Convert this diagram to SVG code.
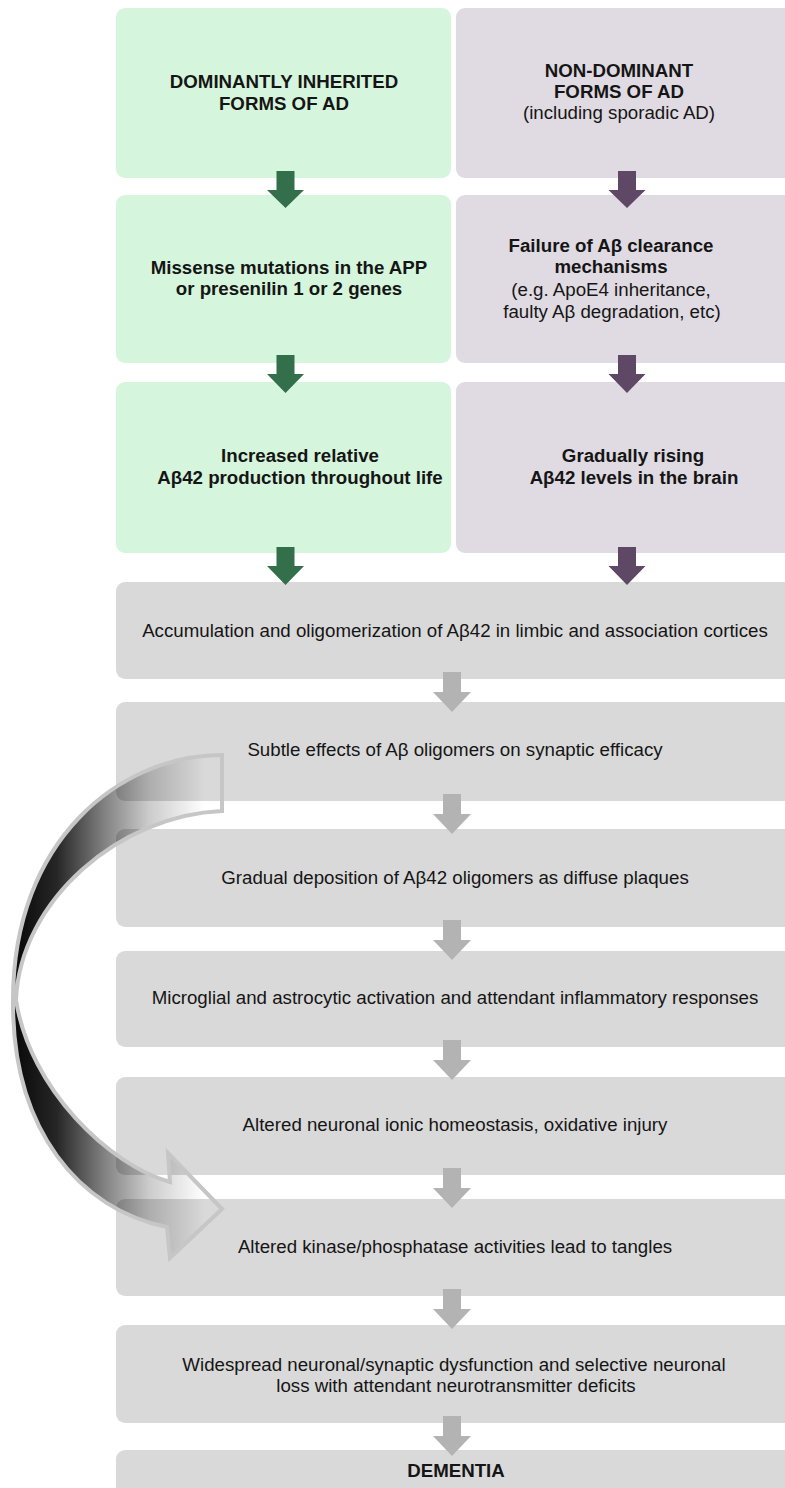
<svg xmlns="http://www.w3.org/2000/svg" width="785" height="1488" viewBox="0 0 785 1488">
<style>
  .g { fill: #d6f5dd; }
  .p { fill: #e0dae2; }
  .k { fill: #d9d9d9; }
  .ga { fill: #336f4b; }
  .pa { fill: #5f4766; }
  .ka { fill: #b3b3b3; }
  text { font-family: "Liberation Sans", Arial, sans-serif; font-size: 18.7px; fill: #151515; text-anchor: middle; }
  .b { font-weight: bold; }
</style>
<defs>
  <linearGradient id="curveGrad" gradientUnits="userSpaceOnUse" x1="20" y1="0" x2="205" y2="0">
    <stop offset="0" stop-color="#000" stop-opacity="0.95"/>
    <stop offset="0.2" stop-color="#000" stop-opacity="0.85"/>
    <stop offset="0.45" stop-color="#000" stop-opacity="0.5"/>
    <stop offset="0.7" stop-color="#000" stop-opacity="0.2"/>
    <stop offset="1" stop-color="#000" stop-opacity="0"/>
  </linearGradient>
</defs>
<rect width="785" height="1488" fill="#ffffff"/>

<g id="n-dominant">
  <rect class="g" x="116" y="8" width="335" height="170" rx="9"/>
  <text class="b" x="284" y="88">DOMINANTLY INHERITED</text>
  <text class="b" x="284" y="110">FORMS OF AD</text>
</g>
<g id="n-nondominant">
  <rect class="p" x="456" y="8" width="345" height="170" rx="9"/>
  <text class="b" x="619" y="77">NON-DOMINANT</text>
  <text class="b" x="619" y="98">FORMS OF AD</text>
  <text x="619" y="119">(including sporadic AD)</text>
</g>
<g id="n-missense">
  <rect class="g" x="116" y="195" width="335" height="168" rx="9"/>
  <text class="b" x="289" y="274">Missense mutations in the APP</text>
  <text class="b" x="289" y="295">or presenilin 1 or 2 genes</text>
</g>
<g id="n-clearance">
  <rect class="p" x="456" y="195" width="345" height="168" rx="9"/>
  <text class="b" x="611" y="252">Failure of Aβ clearance</text>
  <text class="b" x="611" y="273">mechanisms</text>
  <text x="611" y="296">(e.g. ApoE4 inheritance,</text>
  <text x="612" y="318">faulty Aβ degradation, etc)</text>
</g>
<g id="n-increased">
  <rect class="g" x="116" y="382" width="335" height="171" rx="9"/>
  <text class="b" x="300" y="462">Increased relative</text>
  <text class="b" x="300" y="484">Aβ42 production throughout life</text>
</g>
<g id="n-rising">
  <rect class="p" x="456" y="382" width="345" height="171" rx="9"/>
  <text class="b" x="633" y="462">Gradually rising</text>
  <text class="b" x="634" y="484">Aβ42 levels in the brain</text>
</g>
<g id="n-accumulation">
  <rect class="k" x="116" y="582" width="685" height="97" rx="9"/>
  <text x="455" y="637">Accumulation and oligomerization of Aβ42 in limbic and association cortices</text>
</g>
<g id="n-subtle">
  <rect class="k" x="116" y="702" width="685" height="99" rx="9"/>
  <text x="455" y="756">Subtle effects of Aβ oligomers on synaptic efficacy</text>
</g>
<g id="n-deposition">
  <rect class="k" x="116" y="829" width="685" height="98" rx="9"/>
  <text x="455" y="884">Gradual deposition of Aβ42 oligomers as diffuse plaques</text>
</g>
<g id="n-microglial">
  <rect class="k" x="116" y="951" width="685" height="96" rx="9"/>
  <text x="455" y="1004">Microglial and astrocytic activation and attendant inflammatory responses</text>
</g>
<g id="n-ionic">
  <rect class="k" x="116" y="1077" width="685" height="98" rx="9"/>
  <text x="455" y="1131">Altered neuronal ionic homeostasis, oxidative injury</text>
</g>
<g id="n-kinase">
  <rect class="k" x="116" y="1199" width="685" height="97" rx="9"/>
  <text x="455" y="1253">Altered kinase/phosphatase activities lead to tangles</text>
</g>
<g id="n-widespread">
  <rect class="k" x="116" y="1325" width="685" height="98" rx="9"/>
  <text x="454" y="1371">Widespread neuronal/synaptic dysfunction and selective neuronal</text>
  <text x="456" y="1392">loss with attendant neurotransmitter deficits</text>
</g>
<g id="n-dementia">
  <rect class="k" x="116" y="1450" width="685" height="60" rx="9"/>
  <text class="b" x="456" y="1477">DEMENTIA</text>
</g>

<g id="connectors">
  <path class="ga" d="M276.5,171 h18 v19 h9.5 l-18.5,18 l-18.5,-18 h9.5 z"/>
  <path class="ga" d="M276.5,355 h18 v19 h9.5 l-18.5,19 l-18.5,-19 h9.5 z"/>
  <path class="ga" d="M276.5,547 h18 v19 h9.5 l-18.5,19 l-18.5,-19 h9.5 z"/>
  <path class="pa" d="M618,171 h18 v19 h9.5 l-18.5,18 l-18.5,-18 h9.5 z"/>
  <path class="pa" d="M618,355 h18 v19 h9.5 l-18.5,19 l-18.5,-19 h9.5 z"/>
  <path class="pa" d="M618,547 h18 v19 h9.5 l-18.5,19 l-18.5,-19 h9.5 z"/>
  <path class="ka" d="M443,672 h18 v20 h10 l-19,20 l-19,-20 h10 z"/>
  <path class="ka" d="M443,794 h18 v20 h10 l-19,20 l-19,-20 h10 z"/>
  <path class="ka" d="M443,920 h18 v20 h10 l-19,20 l-19,-20 h10 z"/>
  <path class="ka" d="M443,1040 h18 v20 h10 l-19,20 l-19,-20 h10 z"/>
  <path class="ka" d="M443,1168 h18 v20 h10 l-19,20 l-19,-20 h10 z"/>
  <path class="ka" d="M443,1289 h18 v20 h10 l-19,20 l-19,-20 h10 z"/>
  <path class="ka" d="M443,1416 h18 v20 h10 l-19,20 l-19,-20 h10 z"/>
  <path id="curved-arrow" fill="url(#curveGrad)" stroke="#c6c6c6" stroke-width="4" stroke-linejoin="miter"
    d="M222,755 C120,755 13,840 13,1000 C12,1130 80,1210 167,1227 L170,1258 L222,1209 L168,1153 L170,1182 C110,1165 30,1090 16,1000 C20,900 120,815 222,811 Z"/>
</g>
</svg>
